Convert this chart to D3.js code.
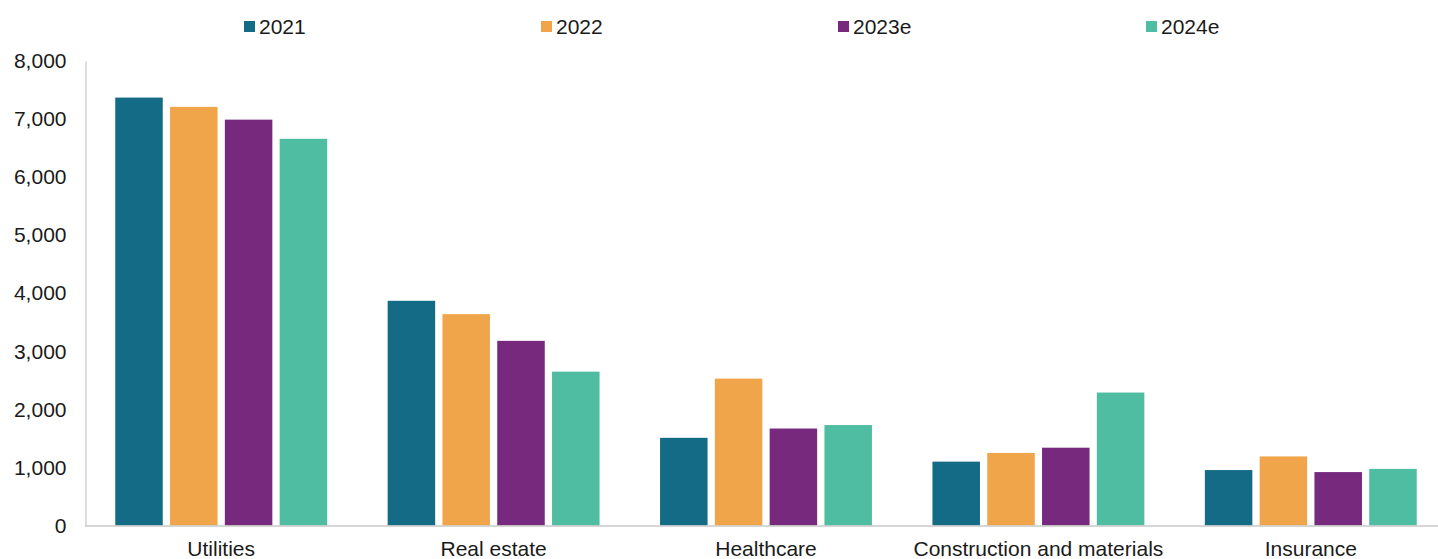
<!DOCTYPE html>
<html>
<head>
<meta charset="utf-8">
<script src="https://cdn.jsdelivr.net/npm/d3@7"></script>
<style>
  html, body { margin: 0; padding: 0; background: #fff; }
  svg { display: block; font-family: "Liberation Sans", Arial, sans-serif; }
</style>
</head>
<body>
<svg id="chart" width="1438" height="559"></svg>
<script>
const categories = ["Utilities", "Real estate", "Healthcare", "Construction and materials", "Insurance"];
const seriesNames = ["2021", "2022", "2023e", "2024e"];
const values2021 = [7370, 3870, 1510, 1100, 955];
const values2022 = [7210, 3640, 2530, 1250, 1190];
const values2023e = [6990, 3180, 1670, 1340, 920];
const values2024e = [6660, 2650, 1730, 2290, 975];
const colors = ["#146B86", "#F1A54A", "#772A7D", "#4FBDA1"];
const yTicks = [0, 1000, 2000, 3000, 4000, 5000, 6000, 7000, 8000];

const seriesValues = [values2021, values2022, values2023e, values2024e];

const svg = d3.select("#chart");
const W = 1438;
const mLeft = 85, plotRight = 1447, mTop = 61, mBottom = 525.5;

const x0 = d3.scaleBand().domain(categories).range([mLeft, plotRight]).paddingInner(0).paddingOuter(0);
const x1 = d3.scaleBand().domain(seriesNames).range([30.25, x0.bandwidth() - 30.25]).paddingInner(0.133).paddingOuter(0);
const y = d3.scaleLinear().domain([0, 8000]).range([mBottom, mTop]);

// bars
const groups = svg.append("g").selectAll("g")
  .data(categories)
  .join("g")
  .attr("transform", d => `translate(${x0(d)},0)`);

groups.selectAll("rect")
  .data((c, i) => seriesNames.map((s, j) => ({ s, j, v: seriesValues[j][i] })))
  .join("rect")
  .attr("x", d => x1(d.s))
  .attr("width", x1.bandwidth())
  .attr("y", d => y(d.v))
  .attr("height", d => y(0) - y(d.v))
  .attr("fill", d => colors[d.j]);

// y axis
const yAxis = d3.axisLeft(y).tickValues(yTicks).tickFormat(d3.format(",")).tickSize(0).tickPadding(19);
const gy = svg.append("g").attr("transform", `translate(${mLeft + 0.5},0)`).call(yAxis);
gy.select(".domain").attr("stroke", "#c8c8c8").attr("stroke-width", 1.2);
gy.selectAll("text").attr("font-size", 21).attr("fill", "#1a1a1a")
  .attr("font-family", "'Liberation Sans', Arial, sans-serif");

// x axis
const xAxis = d3.axisBottom(x0).tickSize(0).tickPadding(16);
const gx = svg.append("g").attr("transform", `translate(0,${mBottom})`).call(xAxis);
gx.select(".domain").remove();
gx.append("line").attr("x1", mLeft).attr("x2", W).attr("y1", 0.5).attr("y2", 0.5)
  .attr("stroke", "#c8c8c8").attr("stroke-width", 1.4);
gx.selectAll("text").attr("font-size", 21).attr("fill", "#1a1a1a")
  .attr("font-family", "'Liberation Sans', Arial, sans-serif");

// legend
const legendX = [244, 541, 838, 1146];
const legend = svg.append("g").selectAll("g")
  .data(seriesNames)
  .join("g")
  .attr("transform", (d, i) => `translate(${legendX[i]},0)`);
legend.append("rect").attr("x", 0).attr("y", 21).attr("width", 11).attr("height", 11)
  .attr("fill", (d, i) => colors[i]);
legend.append("text").attr("x", 15).attr("y", 26.5).attr("dy", "0.35em")
  .attr("font-size", 21).attr("fill", "#1a1a1a").text(d => d);
</script>
</body>
</html>
